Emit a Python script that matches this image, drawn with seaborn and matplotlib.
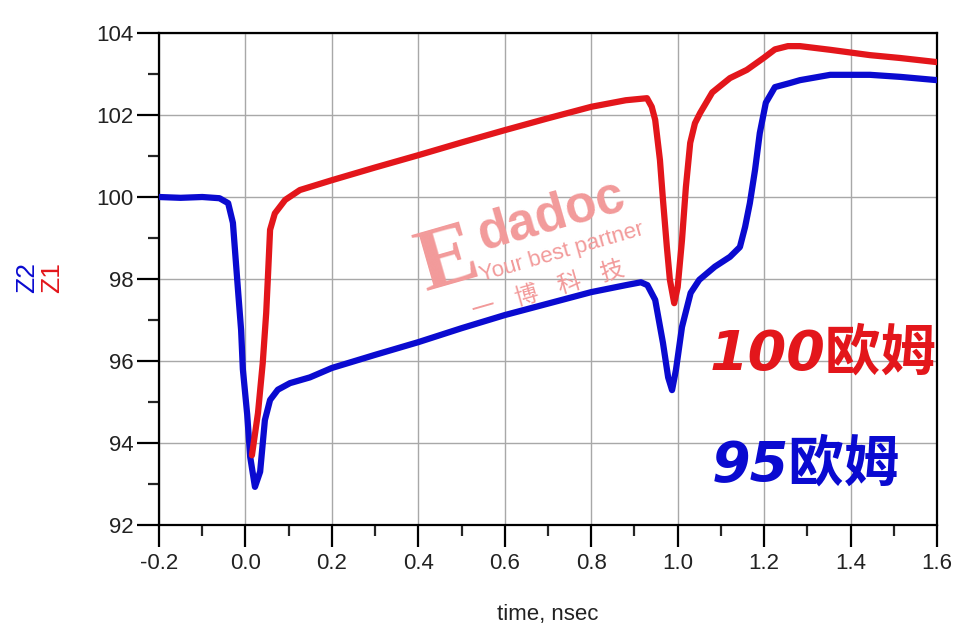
import numpy as np
import pandas as pd
import seaborn as sns
import matplotlib.pyplot as plt
from matplotlib.ticker import MultipleLocator

# TDR impedance traces (time in nsec, ohms)
t_z2 = [-0.2, -0.15, -0.1, -0.06, -0.04, -0.029, -0.017, -0.01, -0.006, 0.004,
        0.011, 0.022, 0.034, 0.045, 0.057, 0.075, 0.103, 0.149, 0.2, 0.3,
        0.4, 0.5, 0.6, 0.7, 0.8, 0.88, 0.915, 0.93, 0.948, 0.966,
        0.978, 0.987, 0.996, 1.01, 1.03, 1.05, 1.086, 1.121, 1.144, 1.156,
        1.167, 1.179, 1.19, 1.204, 1.225, 1.26, 1.283, 1.353, 1.445, 1.515, 1.6]
z2 = [100.0, 99.98, 100.0, 99.97, 99.85, 99.37, 97.7, 96.75, 95.8, 94.7,
      93.66, 92.93, 93.3, 94.56, 95.05, 95.3, 95.46, 95.6, 95.83, 96.15,
      96.46, 96.8, 97.12, 97.4, 97.68, 97.85, 97.92, 97.85, 97.49, 96.44,
      95.6, 95.29, 95.78, 96.83, 97.66, 97.98, 98.3, 98.54, 98.78, 99.27,
      99.85, 100.66, 101.56, 102.3, 102.68, 102.78, 102.85, 102.98, 102.98, 102.93, 102.85]

t_z1 = [0.015, 0.029, 0.04, 0.048, 0.052, 0.057, 0.068, 0.092, 0.126, 0.2,
        0.3, 0.4, 0.5, 0.6, 0.7, 0.8, 0.88, 0.929, 0.94, 0.948,
        0.959, 0.966, 0.975, 0.982, 0.992, 1.0, 1.01, 1.019, 1.029, 1.04,
        1.052, 1.08, 1.121, 1.16, 1.2, 1.225, 1.255, 1.283, 1.353, 1.445, 1.515, 1.6]
z1 = [93.7, 94.73, 95.95, 97.17, 98.05, 99.2, 99.6, 99.93, 100.17, 100.41,
      100.72, 101.02, 101.33, 101.63, 101.92, 102.2, 102.36, 102.41, 102.2, 101.88,
      100.9, 99.93, 98.78, 97.98, 97.41, 97.8, 98.95, 100.24, 101.32, 101.8,
      102.05, 102.55, 102.9, 103.1, 103.4, 103.6, 103.68, 103.68, 103.59, 103.46, 103.39, 103.29]

x_ticks = [-0.2, 0.0, 0.2, 0.4, 0.6, 0.8, 1.0, 1.2, 1.4, 1.6]
y_ticks = [92, 94, 96, 98, 100, 102, 104]

blue = '#0a0ad0'
red = '#e3161b'

sns.set_style("white")
plt.rcParams['font.family'] = ['Liberation Sans', 'Noto Sans CJK SC', 'DejaVu Sans']

fig = plt.figure(figsize=(9.66, 6.34), dpi=100)
ax = fig.add_axes([159/966, 1-525/634, (937-159)/966, (525-33)/634])

df2 = pd.DataFrame({'t': t_z2, 'z': z2})
df1 = pd.DataFrame({'t': t_z1, 'z': z1})
sns.lineplot(data=df2, x='t', y='z', ax=ax, color=blue, linewidth=4.5,
             sort=False, estimator=None, zorder=3)
sns.lineplot(data=df1, x='t', y='z', ax=ax, color=red, linewidth=4.5,
             sort=False, estimator=None, zorder=4)

ax.set_xlim(-0.2, 1.6)
ax.set_ylim(92, 104)
ax.set_xticks(x_ticks)
ax.set_xticklabels([f'{v:.1f}' for v in x_ticks])
ax.set_yticks(y_ticks)
ax.xaxis.set_minor_locator(MultipleLocator(0.1))
ax.yaxis.set_minor_locator(MultipleLocator(1))
ax.grid(True, which='major', color='#a8a8a8', linewidth=1.0, zorder=0)
ax.set_axisbelow(True)
for s in ax.spines.values():
    s.set_color('black')
    s.set_linewidth(1.6)
ax.tick_params(which='major', direction='out', length=16, width=1.6,
               labelsize=16, colors='black', labelcolor='#222222',
               bottom=True, left=True, top=False, right=False, pad=4)
ax.tick_params(which='minor', direction='out', length=8, width=1.6,
               bottom=True, left=True, top=False, right=False)
ax.tick_params(axis='y', pad=2)

ax.set_xlabel('time, nsec', fontsize=16, color='#222222', labelpad=22)
ax.set_ylabel('')
fig.text(27/966, 1-278/634, 'Z2', color=blue, fontsize=19, rotation=90,
         ha='center', va='center')
fig.text(52/966, 1-278/634, 'Z1', color=red, fontsize=19, rotation=90,
         ha='center', va='center')

# watermark
wm = '#f29a9a'
fig.text(448/966, 1-262/634, 'E', fontsize=64, family='Liberation Serif',
         weight='bold', color=wm, rotation=16, ha='center', va='center', zorder=1)
fig.text(552/966, 1-216/634, 'dadoc', fontsize=37, weight='bold', color=wm,
         rotation=16, ha='center', va='center', zorder=1)
fig.text(562/966, 1-252/634, 'Your best partner', fontsize=16, color=wm,
         rotation=16, ha='center', va='center', zorder=1)
fig.text(548/966, 1-290/634, '一    博    科    技', fontsize=17, color=wm,
         family=['Noto Sans CJK SC'], rotation=16, ha='center', va='center', zorder=1)

# annotations
ax.text(1.598, 96.15, '100欧姆', color=red, fontsize=40, style='italic', weight='bold',
        family=['DejaVu Sans', 'Noto Sans CJK SC'], ha='right', va='center', zorder=5)
ax.text(1.515, 93.45, '95欧姆', color=blue, fontsize=40, style='italic', weight='bold',
        family=['DejaVu Sans', 'Noto Sans CJK SC'], ha='right', va='center', zorder=5)

fig.savefig('out.png', dpi=100, facecolor='white')
